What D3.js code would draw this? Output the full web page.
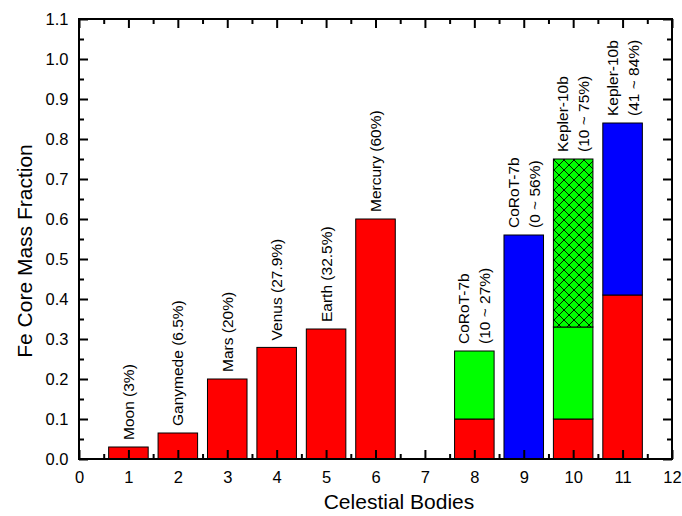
<!DOCTYPE html>
<html>
<head>
<meta charset="utf-8">
<script src="https://cdn.jsdelivr.net/npm/d3@7"></script>
<style>
  body { margin: 0; background: #fff; }
  svg { font-family: "Liberation Sans", Arial, sans-serif; }
</style>
</head>
<body>
<svg id="chart" width="682" height="516"></svg>
<script>
// bar positions on the x axis and their labels
var positions = [1, 2, 3, 4, 5, 6, 8, 9, 10, 11];
var labels = [
  ["Moon (3%)"], ["Ganymede (6.5%)"], ["Mars (20%)"], ["Venus (27.9%)"],
  ["Earth (32.5%)"], ["Mercury (60%)"],
  ["CoRoT-7b", "(10 ~ 27%)"], ["CoRoT-7b", "(0 ~ 56%)"],
  ["Kepler-10b", "(10 ~ 75%)"], ["Kepler-10b", "(41 ~ 84%)"]
];
// stacked segment heights
var redPart   = [0.03, 0.065, 0.2, 0.279, 0.325, 0.6, 0.1, 0, 0.1, 0.41];
var greenPart = [0, 0, 0, 0, 0, 0, 0.17, 0, 0.23, 0];
var hatchPart = [0, 0, 0, 0, 0, 0, 0, 0, 0.42, 0];
var bluePart  = [0, 0, 0, 0, 0, 0, 0, 0.56, 0, 0.43];

var xTicks = d3.range(0, 13, 1);
var yTicks = d3.range(0, 1.1001, 0.1);

var margin = {left: 79, right: 10, top: 19, bottom: 57};
var width = 682, height = 516;

var svg = d3.select('#chart');

var x = d3.scaleLinear().domain([0, 12]).range([margin.left, width - margin.right]);
var y = d3.scaleLinear().domain([0, 1.1]).range([height - margin.bottom, margin.top]);

var defs = svg.append('defs');
var pat = defs.append('pattern')
  .attr('id', 'hatch')
  .attr('patternUnits', 'userSpaceOnUse')
  .attr('width', 10).attr('height', 10)
  .attr('x', 4).attr('y', 0);
pat.append('rect').attr('width', 10).attr('height', 10).attr('fill', '#00ff00');
pat.append('path')
  .attr('d', 'M0,0L10,10M0,10L10,0M-1,9L1,11M9,-1L11,1M-1,1L1,-1M9,11L11,9')
  .attr('stroke', '#000').attr('stroke-width', 0.9);

var rows = positions.map(function(p, i){
  return {pos: p, red: redPart[i], green: greenPart[i], hatch: hatchPart[i], blue: bluePart[i]};
});
var keys = ['red', 'green', 'hatch', 'blue'];
var fills = {red: '#ff0000', green: '#00ff00', hatch: 'url(#hatch)', blue: '#0000ff'};
var stack = d3.stack().keys(keys)(rows);

var barW = x(0.8) - x(0);

stack.forEach(function(layer){
  svg.append('g')
    .selectAll('rect')
    .data(layer.filter(function(d){ return d[1] > d[0]; }))
    .enter().append('rect')
    .attr('x', function(d){ return x(d.data.pos) - barW / 2; })
    .attr('y', function(d){ return y(d[1]); })
    .attr('width', barW)
    .attr('height', function(d){ return y(d[0]) - y(d[1]); })
    .style('fill', fills[layer.key])
    .style('stroke', '#000')
    .style('stroke-width', 1);
});

// labels above bars
rows.forEach(function(d, i){
  var top = d.red + d.green + d.hatch + d.blue;
  var lines = labels[i];
  var g = svg.append('g')
    .attr('transform', 'translate(' + x(d.pos) + ',' + (y(top) - 7) + ') rotate(-90)');
  lines.forEach(function(t, j){
    var off = (j - (lines.length - 1) / 2) * 21;
    g.append('text')
      .attr('x', 0)
      .attr('y', off)
      .attr('dy', '0.35em')
      .style('font-size', '15.5px')
      .style('fill', '#000')
      .text(t);
  });
});

// axes with inward ticks
var x0 = x(0), x1 = x(12), y0 = y(0), y1 = y(1.1);
var fmt = d3.format('.1f');

function styleAxis(g){
  g.select('.domain').remove();
  g.selectAll('.tick line').style('stroke', '#000').style('stroke-width', 2);
  g.selectAll('.tick text').style('font-size', '16.5px').style('fill', '#000')
    .style('font-family', '"Liberation Sans", Arial, sans-serif');
}

svg.append('g').attr('transform', 'translate(0,' + y0 + ')')
  .call(d3.axisBottom(x).tickValues(xTicks).tickFormat(d3.format('d')).tickSize(-9).tickPadding(12))
  .call(styleAxis);
svg.append('g').attr('transform', 'translate(0,' + y0 + ')')
  .call(d3.axisBottom(x).tickValues(d3.range(0.5, 12, 1)).tickFormat('').tickSize(-5))
  .call(styleAxis);
svg.append('g').attr('transform', 'translate(0,' + y1 + ')')
  .call(d3.axisTop(x).tickValues(xTicks).tickFormat('').tickSize(-9))
  .call(styleAxis);
svg.append('g').attr('transform', 'translate(0,' + y1 + ')')
  .call(d3.axisTop(x).tickValues(d3.range(0.5, 12, 1)).tickFormat('').tickSize(-5))
  .call(styleAxis);

svg.append('g').attr('transform', 'translate(' + x0 + ',0)')
  .call(d3.axisLeft(y).tickValues(yTicks).tickFormat(fmt).tickSize(-9).tickPadding(10.5))
  .call(styleAxis);
svg.append('g').attr('transform', 'translate(' + x0 + ',0)')
  .call(d3.axisLeft(y).tickValues(d3.range(0.05, 1.1, 0.1)).tickFormat('').tickSize(-5))
  .call(styleAxis);
svg.append('g').attr('transform', 'translate(' + x1 + ',0)')
  .call(d3.axisRight(y).tickValues(yTicks).tickFormat('').tickSize(-9))
  .call(styleAxis);
svg.append('g').attr('transform', 'translate(' + x1 + ',0)')
  .call(d3.axisRight(y).tickValues(d3.range(0.05, 1.1, 0.1)).tickFormat('').tickSize(-5))
  .call(styleAxis);

// frame
svg.append('rect')
  .attr('x', x0).attr('y', y1)
  .attr('width', x1 - x0).attr('height', y0 - y1)
  .style('fill', 'none').style('stroke', '#000').style('stroke-width', 2);

// axis titles
svg.append('text')
  .attr('x', 399).attr('y', 509)
  .attr('text-anchor', 'middle')
  .style('font-size', '21px')
  .text('Celestial Bodies');
svg.append('text')
  .attr('transform', 'translate(32,251) rotate(-90)')
  .attr('text-anchor', 'middle')
  .style('font-size', '21px')
  .text('Fe Core Mass Fraction');
</script>
</body>
</html>
